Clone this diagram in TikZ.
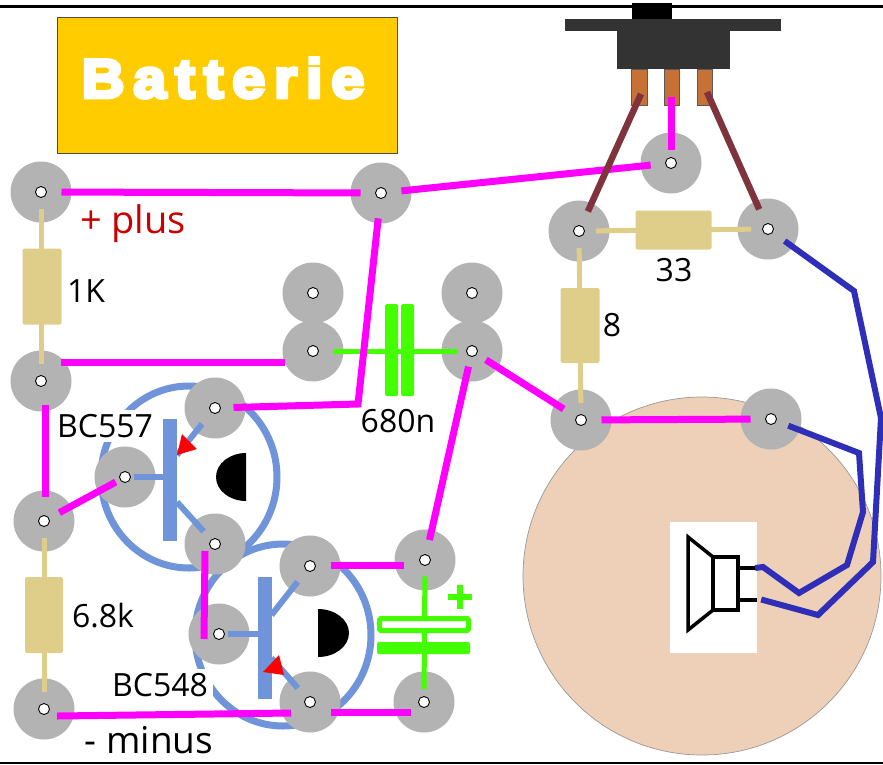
\documentclass[tikz,border=0pt]{standalone}
\usepackage{fontspec}
\setmainfont{Open Sans}
\newfontfamily\batfont[LetterSpace=16,FakeBold=6.5,FakeStretch=1.08]{Liberation Sans}
\usetikzlibrary{calc}
\usetikzlibrary{shapes.geometric}
\definecolor{padgray}{HTML}{B3B3B3}
\definecolor{tranblue}{HTML}{6F94DA}
\definecolor{wiremag}{HTML}{FF00FF}
\definecolor{wirebrown}{HTML}{7F343D}
\definecolor{wireblue}{HTML}{2E2EB8}
\definecolor{resbeige}{HTML}{DFCD8A}
\definecolor{capgreen}{HTML}{44FF00}
\definecolor{pinorange}{HTML}{C87137}
\definecolor{conepeach}{HTML}{EECFB7}
\definecolor{batyellow}{HTML}{FFCC00}
\tikzset{pad/.style = {circle,fill=padgray,minimum size=61pt,inner sep=0pt,outer sep=0pt,path picture={\draw[black,fill=white,line width=0.9pt] (path picture bounding box.center) circle (5.5pt);}}}
\tikzset{wire/.style = {wiremag,line width=7pt,shorten <=-10pt,shorten >=-10pt,line join=miter}}
\tikzset{brownwire/.style = {wirebrown,line width=6.5pt,shorten <=-9pt}}
\tikzset{bluewire/.style = {wireblue,line width=6pt,line join=miter}}
\tikzset{lead/.style = {resbeige,line width=5pt,shorten <=-13.5pt,shorten >=-13.5pt}}
\tikzset{resbody/.style = {draw=none,fill=resbeige,rounded corners=2pt,inner sep=0pt,outer sep=0pt}}
\tikzset{capplate/.style = {fill=capgreen,rounded corners=1.5pt,inner sep=0pt,outer sep=0pt}}
\tikzset{bar/.style = {fill=tranblue,minimum width=14pt,minimum height=122pt,inner sep=0pt,outer sep=0pt}}
\tikzset{leg/.style = {tranblue,line width=6pt}}
\tikzset{case/.style = {ellipse,draw=tranblue,line width=7pt,minimum width=176pt,minimum height=182pt,inner sep=0pt}}
\tikzset{pin/.style = {fill=pinorange,draw=black!65,line width=0.7pt,minimum width=15.5pt,minimum height=36pt,inner sep=0pt,outer sep=0pt}}
\tikzset{part/.style = {font=\fontsize{32}{36}\selectfont,inner sep=0pt}}
\tikzset{typelabel/.style = {part,fill=white,inner xsep=5pt,inner ysep=4pt}}

\begin{document}
\begin{tikzpicture}[x=1pt,y=-1pt]
            \useasboundingbox (0,0) rectangle (883,764);
            % frame lines
            \draw[black,line width=3pt] (0,6.5) -- (883,6.5);
            \draw[black,line width=2pt] (0,762.5) -- (883,762.5);

            \node[circle,draw=black!40,fill=conepeach,line width=0.7pt,minimum size=358pt,inner sep=0pt] (cone) at (702,576) {};
            \node[draw=black!70,fill=batyellow,line width=0.7pt,minimum width=340pt,minimum height=136pt,inner sep=0pt] (battery) at (227.5,85) {};
            \node[font=\batfont\bfseries\fontsize{55}{60}\selectfont,text=white,inner sep=0pt] (batlabel) at (223,78) {Batterie};

            % transistor cases and type labels
            \node[case] (case1) at (189,477) {};
            \node[case] (case2) at (283,635) {};
            \node[typelabel] (type1) at (105,426) {BC557};
            \node[typelabel] (type2) at (160,685) {BC548};

            % solder pads
            \node[pad] (A) at (41,192) {};
            \node[pad] (B) at (381,193) {};
            \node[pad] (C) at (671,163) {};
            \node[pad] (D) at (579,231) {};
            \node[pad] (E) at (768,229) {};
            \node[pad] (F) at (313,293) {};
            \node[pad] (G) at (313,351) {};
            \node[pad] (H) at (472,293) {};
            \node[pad] (I) at (472,351) {};
            \node[pad] (J) at (41,381) {};
            \node[pad] (K) at (215,408) {};
            \node[pad] (L) at (125,477) {};
            \node[pad] (M) at (44,521) {};
            \node[pad] (N) at (215,544) {};
            \node[pad] (O) at (310,566) {};
            \node[pad] (P) at (219,634) {};
            \node[pad] (Q) at (310,702) {};
            \node[pad] (R) at (425,560) {};
            \node[pad] (S) at (424,702) {};
            \node[pad] (T) at (44,709) {};
            \node[pad] (U) at (581,420) {};
            \node[pad] (V) at (771,419) {};

            % switch
            \node[fill=black,minimum width=40pt,minimum height=17pt,inner sep=0pt] (knob) at (652,11) {};
            \node[fill=black!80,minimum width=216pt,minimum height=12pt,inner sep=0pt] (flange) at (673,25) {};
            \node[fill=black!80,minimum width=113pt,minimum height=50pt,inner sep=0pt] (housing) at (673.5,44) {};
            \node[pin] (pin1) at (639.5,87) {};
            \node[pin] (pin2) at (672,87) {};
            \node[pin] (pin3) at (705,87) {};

            % resistors
            \draw[lead] (A) -- node[resbody,minimum width=39pt,minimum height=76pt,xshift=1pt] (r1k) {} (J);
            \draw[lead] (M) -- node[resbody,minimum width=38pt,minimum height=76pt] (r68k) {} (T);
            \draw[lead] (D) -- node[resbody,minimum width=39pt,minimum height=75pt] (r8) {} (U);
            \draw[lead] (D) -- node[resbody,minimum width=76pt,minimum height=39pt] (r33) {} (E);

            % capacitors
            \draw[capgreen,line width=5pt,shorten <=-10.5pt,shorten >=-16pt] (G) -- (I);
            \node[capplate,minimum width=13pt,minimum height=92pt] (plate1) at (391.5,350) {};
            \node[capplate,minimum width=13pt,minimum height=92pt] (plate2) at (407.5,350) {};
            \draw[capgreen,line width=5pt,shorten <=-14pt,shorten >=-17.5pt] (R) -- (S);
            \node[capplate,draw=capgreen,fill=white,line width=5pt,minimum width=89pt,minimum height=12pt] (plate3) at (424,624.5) {};
            \node[capplate,minimum width=93pt,minimum height=12pt] (plate4) at (423.5,648) {};
            \draw[capgreen,line width=6.5pt] (448,597) -- (472,597) (460,585) -- (460,609);

            % transistors
            \node[bar] (bar1) at (170,480) {};
            \draw[leg,shorten <=-22pt] (L) -- (bar1.west |- L);
            \draw[leg,shorten <=-10pt] (K) -- ($(bar1.east)+(0,-25)$);
            \draw[leg,shorten <=-13.5pt] (N) -- ($(bar1.east)+(0,22)$);
            \fill[red] (182,434) -- (197,449) -- (177,455) -- cycle;
            \fill[black] (246,453) arc[start angle=90,end angle=270,x radius=30pt,y radius=24pt] -- cycle;
            \node[bar] (bar2) at (264.5,637.5) {};
            \draw[leg,shorten <=-22pt] (P) -- (bar2.west |- P);
            \draw[leg,shorten <=-10.5pt] (O) -- ($(bar2.east)+(0,-22.5)$);
            \draw[leg,shorten <=-12pt] (Q) -- ($(bar2.east)+(0,20.5)$);
            \fill[red] (279,655) -- (284,675) -- (263,672) -- cycle;
            \fill[black] (318,609) arc[start angle=90,end angle=-90,x radius=31pt,y radius=24pt] -- cycle;

            % speaker symbol
            \node[fill=white,minimum width=87pt,minimum height=131pt,inner sep=0pt] (speaker) at (713.5,587.5) {};
            \draw[black,line width=3.5pt,line join=miter] (713,557) -- (688,537) -- (688,630) -- (713,610);
            \draw[black,line width=3.5pt] (713,557) rectangle (738,610);
            \draw[black,line width=3.5pt] (738,568) -- (757,568) (738,600) -- (757,600);

            % wires
            \draw[wire] (A) -- (B);
            \draw[wire] (B) -- (C);
            \draw[wire,shorten <=-5pt,shorten >=-12pt] (B) -- (358,404) -- (K);
            \draw[wire,shorten <=0pt,shorten >=0pt] ($(J)+(20,-19)$) -- ($(G)+(-28,11)$);
            \draw[wire,shorten <=0pt,shorten >=0pt] ($(J)+(4,24)$) -- ($(M)+(1,-24)$);
            \draw[wire,shorten <=-13pt,shorten >=-20pt] (M) -- (L);
            \draw[wire,shorten <=0pt,shorten >=0pt] ($(N)+(-10,7)$) -- ($(P)+(-15,5)$);
            \draw[wire,shorten <=0pt,shorten >=0pt] ($(O)+(21,-1)$) -- ($(R)+(-21,5)$);
            \draw[wire,shorten <=0pt,shorten >=0pt] ($(Q)+(21,10)$) -- ($(S)+(-13,10)$);
            \draw[wire,shorten <=0pt,shorten >=0pt] ($(T)+(13,7)$) -- ($(Q)+(-19,11)$);
            \draw[wire,shorten <=-14pt] (I) -- (U);
            \draw[wire,shorten <=-14.5pt] (I) -- (R);
            \draw[wire] (U) -- (V);
            \draw[wire,shorten <=0pt,shorten >=-17pt] ($(pin2.south)+(-1,-8)$) -- (C);

            \draw[brownwire] (D) -- ($(pin1.south)+(1.5,-11)$);
            \draw[brownwire] (E) -- ($(pin3.south)+(2,-13)$);

            \draw[bluewire,shorten <=-10pt] (E) -- (854,291) -- (881,418) -- (873,562) -- (818,615) -- ($(speaker.east)+(4,12)$);
            \draw[bluewire,shorten <=-12pt] (V) -- (859,453) -- (863,512) -- (847,565) -- (799,593) -- (763,567) -- ($(speaker.east)+(-2,-19.5)$);

            % labels
            \node[part,text={rgb,255:red,200;green,0;blue,0},font=\fontsize{38}{40}\selectfont] (pluslabel) at (133,224) {+ plus};
            \node[part,font=\fontsize{37}{40}\selectfont] (minuslabel) at (149,740) {- minus};
            \node[part] (r1klabel) at (86,291) {1K};
            \node[part] (r33label) at (674,270) {33};
            \node[part] (r8label) at (612,325) {8};
            \node[part] (r68klabel) at (103,616) {6.8k};
            \node[part] (caplabel) at (398,421) {680n};
        \end{tikzpicture}
\end{document}
